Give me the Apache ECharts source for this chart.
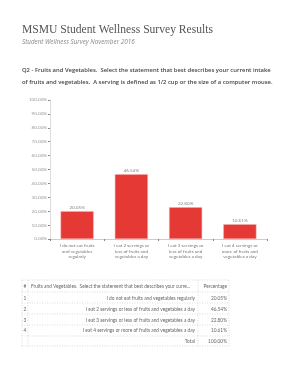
<!DOCTYPE html>
<html><head><meta charset="utf-8">
<style>html,body{margin:0;padding:0;background:#fff;}#c{width:298px;height:386px;}</style>
<script src="https://cdn.jsdelivr.net/npm/echarts@6/dist/echarts.min.js"></script>
</head><body><div id="c"></div>
<script>
var categories = [
  'I do not eat fruits\nand vegetables\nregularly',
  'I eat 2 servings or\nless of fruits and\nvegetables a day',
  'I eat 3 servings or\nless of fruits and\nvegetables a day',
  'I eat 4 servings or\nmore of fruits and\nvegetables a day'
];
var tableLabels = [
  'I do not eat fruits and vegetables regularly',
  'I eat 2 servings or less of fruits and vegetables a day',
  'I eat 3 servings or less of fruits and vegetables a day',
  'I eat 4 servings or more of fruits and vegetables a day'
];
var values = [20.05, 46.54, 22.80, 10.61];
var totalLabel = '100.00%';
var titleText = 'MSMU Student Wellness Survey Results';
var subtitleText = 'Student Wellness Survey November 2016';
var questionLines = [
  'Q2 - Fruits and Vegetables.  Select the statement that best describes your current intake',
  'of fruits and vegetables.  A serving is defined as 1/2 cup or the size of a computer mouse.'
];
var tableHeader = ['#', 'Fruits and Vegetables.  Select the statement that best describes your curre...', 'Percentage'];

var chart = echarts.init(document.getElementById('c'));
var graphics = [
  {type:'text', left:22, top:24, style:{text:titleText, font:'11.6px "Liberation Serif", serif', fill:'#555'}},
  {type:'text', left:22, top:39, style:{text:subtitleText, font:'italic 6.3px "Open Sans", sans-serif', fill:'#888'}},
  {type:'text', left:22, top:67, style:{text:questionLines[0], font:'600 5.87px "Open Sans", sans-serif', fill:'#444'}},
  {type:'text', left:22, top:79, style:{text:questionLines[1], font:'600 5.87px "Open Sans", sans-serif', fill:'#444'}}
];
// table
var tx0 = 22, tx1 = 28, tx2 = 198, tx3 = 229;
var rowY = [286, 298, 309, 320, 330, 341];
var lineY = [280, 292, 303, 314, 325, 336, 346];
var dot = {stroke:'#c4c4c4', lineWidth:0.6, lineDash:[1,1.5]};
lineY.forEach(function(y){
  graphics.push({type:'line', shape:{x1:tx0, y1:y, x2:tx3, y2:y}, style:dot, silent:true});
});
[tx0, tx1, tx2, tx3].forEach(function(x){
  graphics.push({type:'line', shape:{x1:x, y1:lineY[0], x2:x, y2:lineY[lineY.length-1]}, style:dot, silent:true});
});
var tf = '4.8px "Lato", sans-serif';
graphics.push({type:'text', x:25, y:rowY[0], style:{text:tableHeader[0], font:tf, fill:'#666', align:'center', verticalAlign:'middle'}});
graphics.push({type:'text', x:tx1+3, y:rowY[0], style:{text:tableHeader[1], font:tf, fill:'#666', align:'left', verticalAlign:'middle'}});
graphics.push({type:'text', x:tx3-2, y:rowY[0], style:{text:tableHeader[2], font:tf, fill:'#666', align:'right', verticalAlign:'middle'}});
values.forEach(function(v, i){
  var y = rowY[i+1];
  graphics.push({type:'text', x:25, y:y, style:{text:String(i+1), font:tf, fill:'#666', align:'center', verticalAlign:'middle'}});
  graphics.push({type:'text', x:tx2-3, y:y, style:{text:tableLabels[i], font:tf, fill:'#666', align:'right', verticalAlign:'middle'}});
  graphics.push({type:'text', x:tx3-2, y:y, style:{text:v.toFixed(2)+'%', font:tf, fill:'#666', align:'right', verticalAlign:'middle'}});
});
graphics.push({type:'text', x:tx2-3, y:rowY[5], style:{text:'Total', font:tf, fill:'#666', align:'right', verticalAlign:'middle'}});
graphics.push({type:'text', x:tx3-2, y:rowY[5], style:{text:totalLabel, font:tf, fill:'#666', align:'right', verticalAlign:'middle'}});

chart.setOption({
  animation:false,
  grid:{left:50, right:31, top:100, bottom:147, containLabel:false},
  xAxis:{type:'category', data:categories,
    axisLine:{lineStyle:{color:'#ccc', width:1}},
    axisTick:{show:true, lineStyle:{color:'#888'}, length:2},
    axisLabel:{fontSize:4.6, color:'#777', lineHeight:5.6, margin:4, interval:0, fontFamily:'Lato'}
  },
  yAxis:{type:'value', min:0, max:100, interval:10,
    axisLine:{show:true, lineStyle:{color:'#ddd'}},
    axisTick:{show:true, length:2, lineStyle:{color:'#888'}},
    splitLine:{show:false},
    axisLabel:{fontSize:4.6, color:'#999', margin:3, fontFamily:'Lato', formatter:function(v){return v.toFixed(2)+'%';}}
  },
  series:[{type:'bar', data:values, barWidth:'61%',
    itemStyle:{color:'#e53935', borderColor:'#f3b0ae', borderWidth:0.5},
    label:{show:true, position:'top', distance:1, fontSize:4.6, color:'#888', fontFamily:'Lato', formatter:function(p){return p.value.toFixed(2)+'%';}}
  }],
  graphic:graphics
});
</script></body></html>
